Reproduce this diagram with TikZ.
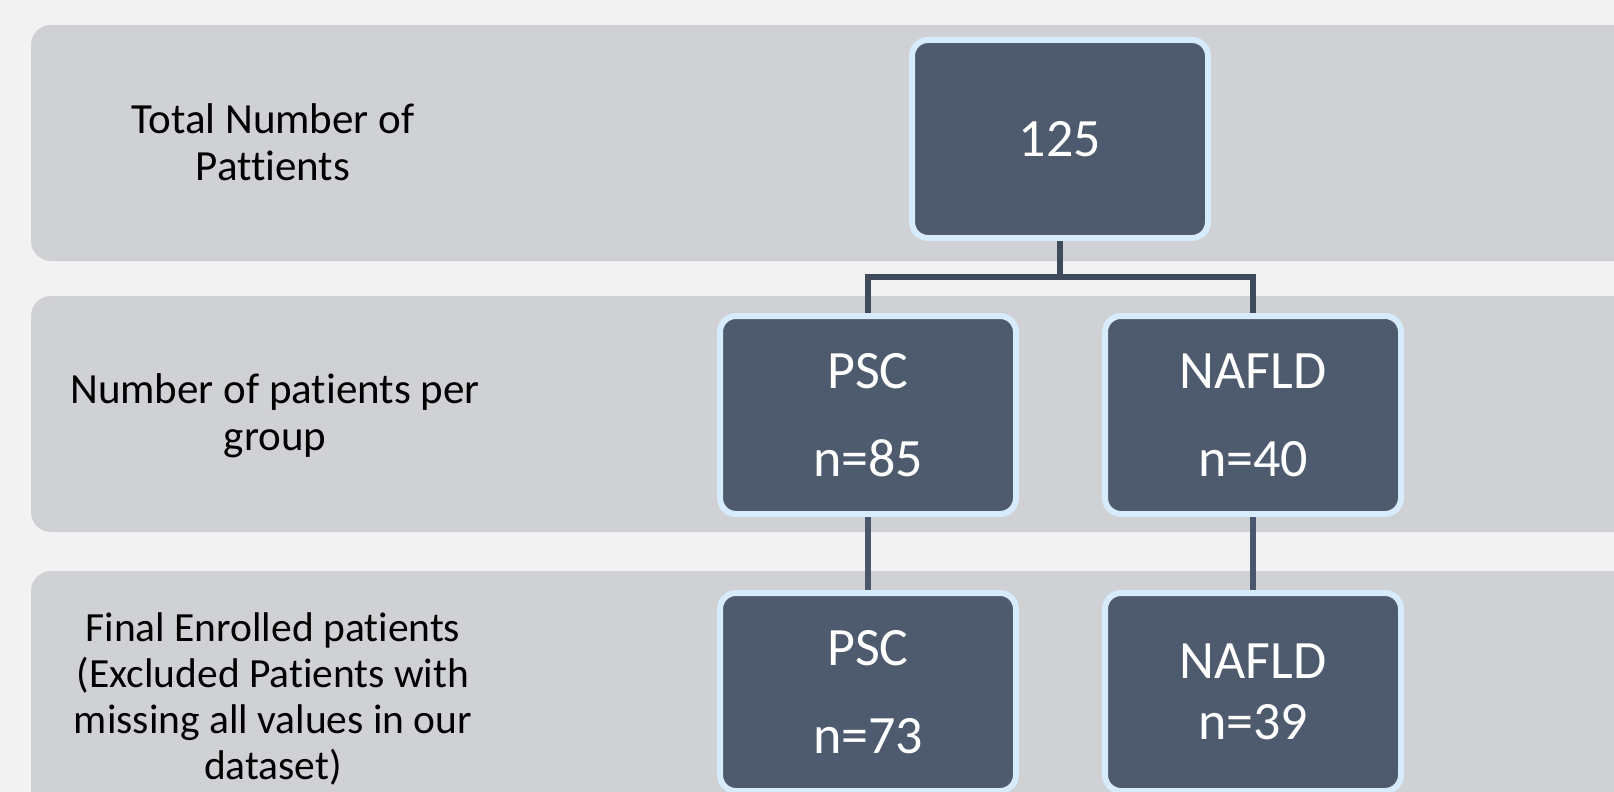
\documentclass[tikz,border=0pt]{standalone}
\usepackage{fontspec}
\setmainfont{Carlito}[Ligatures=NoCommon]
\definecolor{bg}{HTML}{F2F2F2}
\definecolor{band}{HTML}{D0D1D5}
\definecolor{boxfill}{HTML}{4E5A6E}
\definecolor{boxline}{HTML}{D6EBFB}
\definecolor{conn}{HTML}{3F4A5B}
\definecolor{conntwo}{HTML}{4B566A}
\begin{document}
\begin{tikzpicture}[x=1pt,y=-1pt,
  bandbox/.style={fill=band, rounded corners=20pt},
  stage/.style={fill=boxfill, draw=boxline, line width=6pt, rounded corners=16pt,
    minimum width=296pt, minimum height=198pt, text=white, align=center,
    font=\fontsize{54}{61}\selectfont, inner sep=0pt},
  rowlabel/.style={align=center, text=black, font=\fontsize{43}{47}\selectfont, inner sep=0pt},
  link/.style={draw=conn, line width=5.5pt, line join=miter},
  linktwo/.style={draw=conntwo, line width=5.5pt}]
\useasboundingbox (0,0) rectangle (1614,792);
\clip (0,0) rectangle (1614,792);
\fill[bg] (0,0) rectangle (1614,792);
% bands
\fill[bandbox] (31,25) rectangle (1700,261);
\fill[bandbox] (31,296) rectangle (1700,532);
\fill[bandbox] (31,571) rectangle (1700,840);
% row labels
\node[rowlabel] (l1) at (273,142) {Total Number of\\Pattients};
\node[rowlabel] (l2) at (275,416) {Number of patients per\\group};
\node[rowlabel, font=\fontsize{41.5}{46}\selectfont] (l3) at (273,699) {Final Enrolled patients\\(Excluded Patients with\\missing all values in our\\dataset)};
% boxes
\node[stage] (top) at (1060,139) {125};
\node[stage] (psc) at (868,415) {PSC\\[27pt]n=85};
\node[stage] (nafld) at (1253,415) {NAFLD\\[27pt]n=40};
\node[stage] (pscb) at (868,692) {PSC\\[27pt]n=73};
\node[stage] (nafldb) at (1253,692) {NAFLD\\n=39};
% connectors
\coordinate (j) at (1060,277);
\draw[link] (top.south) -- (j);
\draw[link] (psc.north) -- (psc.north |- j) -- (nafld.north |- j) -- (nafld.north);
\draw[linktwo] (psc.south) -- (pscb.north);
\draw[linktwo] (nafld.south) -- (nafldb.north);
\end{tikzpicture}
\end{document}
